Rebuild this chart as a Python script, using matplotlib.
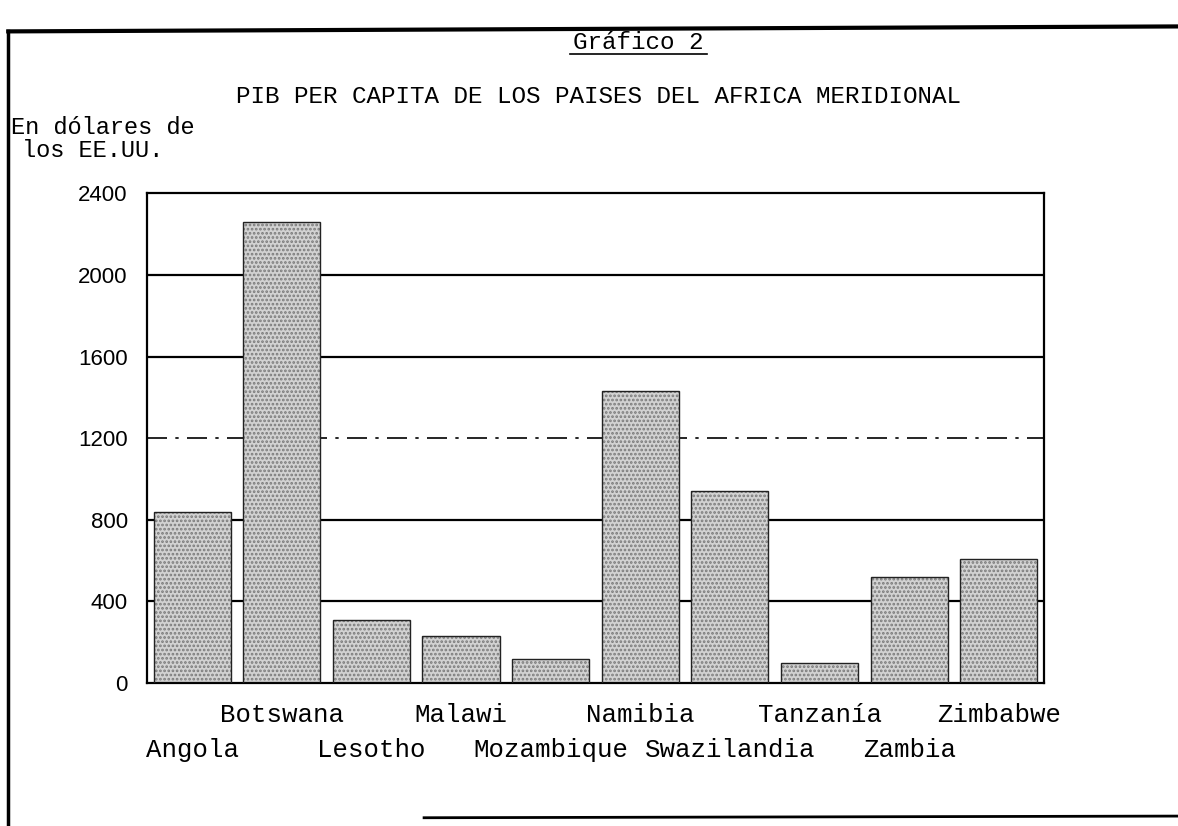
import matplotlib
matplotlib.use("Agg")
import matplotlib.pyplot as plt
from matplotlib.lines import Line2D

countries = ["Angola", "Botswana", "Lesotho", "Malawi", "Mozambique",
             "Namibia", "Swazilandia", "Tanzanía", "Zambia", "Zimbabwe"]
gdp_pc = [840, 2260, 310, 230, 120, 1430, 940, 100, 520, 610]
solid_grid = [400, 800, 1600, 2000]
avg_line = 1200
yticks = [0, 400, 800, 1200, 1600, 2000, 2400]

mono = "Liberation Mono"
plt.rcParams["hatch.linewidth"] = 1.3
fig = plt.figure(figsize=(11.78, 8.26), dpi=100)
ax = fig.add_axes([0.125, 0.173, 0.761, 0.593])

x = list(range(len(countries)))
for g in solid_grid:
    ax.axhline(g, color="black", lw=1.6, zorder=1)
ax.axhline(avg_line, color="black", lw=1.2, ls=(0, (12, 5, 2, 5)), zorder=1)

ax.bar(x, gdp_pc, width=0.86, color="#d2d2d2", hatch="....",
       edgecolor="#7a7a7a", linewidth=0, zorder=2)
ax.bar(x, gdp_pc, width=0.86, fill=False, edgecolor="#222222",
       linewidth=1.0, zorder=3)

ax.set_xlim(-0.5, len(countries) - 0.5)
ax.set_ylim(0, 2400)
ax.set_yticks(yticks)
ax.set_yticklabels([str(t) for t in yticks], fontfamily="Liberation Sans",
                   fontsize=16)
ax.tick_params(axis="y", length=0, pad=14)
ax.set_xticks([])
for s in ax.spines.values():
    s.set_linewidth(1.6)

for i, c in enumerate(countries):
    yoff = -0.065 if i % 2 == 1 else -0.137
    ax.text(i, yoff, c, transform=ax.get_xaxis_transform(), ha="center",
            va="center", fontfamily=mono, fontsize=18.5)

fig.text(0.508, 0.883, "PIB PER CAPITA DE LOS PAISES DEL AFRICA MERIDIONAL",
         ha="center", va="center", fontfamily=mono, fontsize=17.5)
fig.text(0.542, 0.949, "Gráfico 2", ha="center", va="center",
         fontfamily=mono, fontsize=17.5)
fig.add_artist(Line2D([0.484, 0.600], [0.935, 0.935], color="black", lw=1.2))
fig.text(0.009, 0.846, "En dólares de", ha="left", va="center",
         fontfamily=mono, fontsize=17)
fig.text(0.019, 0.818, "los EE.UU.", ha="left", va="center",
         fontfamily=mono, fontsize=17)

# outer frame
fig.add_artist(Line2D([0.007, 1.0], [0.962, 0.968], color="black", lw=3))
fig.add_artist(Line2D([0.007, 0.007], [0.0, 0.962], color="black", lw=2.5))
fig.add_artist(Line2D([0.36, 1.0], [0.01, 0.012], color="black", lw=2))

fig.savefig("out.png", dpi=100, facecolor="white")
